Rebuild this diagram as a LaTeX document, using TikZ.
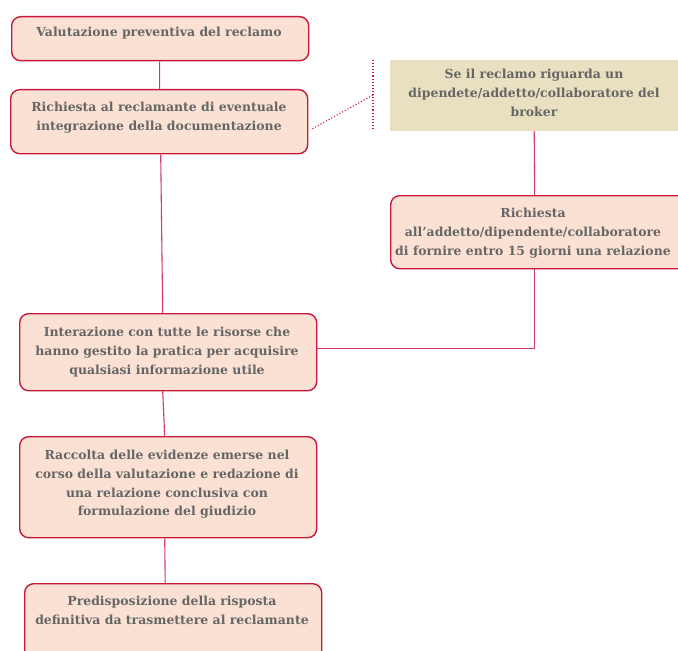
\documentclass[tikz,border=0pt]{standalone}
\usepackage{fontspec}
\setmainfont{DejaVu Serif}
\usetikzlibrary{positioning,calc}
\definecolor{boxred}{HTML}{C8183C}
\definecolor{linered}{HTML}{D23A62}
\definecolor{peach}{HTML}{FAE1D4}
\definecolor{tanbox}{HTML}{E8E0C0}
\definecolor{txtgray}{HTML}{666666}
\tikzset{
  stepbox/.style={draw=boxred, line width=1.4pt, fill=peach, rounded corners=9pt, inner sep=0pt, anchor=north west},
  notebox/.style={fill=tanbox, draw=none, inner sep=0pt, anchor=north west},
  lbl/.style={font=\fontsize{12.5}{19}\selectfont\bfseries, text=txtgray, align=center, anchor=north, inner sep=0pt},
  conn/.style={draw=linered, line width=1.1pt},
  dotconn/.style={draw=boxred, line width=1.1pt, dotted}
}
\begin{document}
\begin{tikzpicture}[x=1bp,y=-1bp]
\useasboundingbox (0,0) rectangle (678,651);
\clip (0,0) rectangle (678,651);
% boxes
\node[stepbox, minimum width=297bp, minimum height=44bp] (b1) at (11,16) {};
\node[stepbox, minimum width=297bp, minimum height=64bp] (b2) at (10,89) {};
\node[notebox, minimum width=288bp, minimum height=71bp] (tan) at (390,60) {};
\node[stepbox, minimum width=300bp, minimum height=73bp] (rb) at (390,195) {};
\node[stepbox, minimum width=297bp, minimum height=77bp] (b4) at (19,313) {};
\node[stepbox, minimum width=297bp, minimum height=101bp] (b5) at (19,436) {};
\node[stepbox, minimum width=297bp, minimum height=90bp] (b6) at (24,583) {};
% labels
\node[lbl] (t1) at (159,27) {Valutazione preventiva del reclamo};
\node[lbl] (t2) at (159,101.5) {Richiesta al reclamante di eventuale\\integrazione della documentazione};
\node[lbl] (t3) at (534,68.5) {Se il reclamo riguarda un\\dipendete/addetto/collaboratore del\\broker};
\node[lbl] (t4) at (533,207.5) {Richiesta\\all’addetto/dipendente/collaboratore\\di fornire entro 15 giorni una relazione};
\node[lbl] (t5) at (167,326.5) {Interazione con tutte le risorse che\\hanno gestito la pratica per acquisire\\qualsiasi informazione utile};
\node[lbl] (t6) at (167,449.5) {Raccolta delle evidenze emerse nel\\corso della valutazione e redazione di\\una relazione conclusiva con\\formulazione del giudizio};
\node[lbl] (t7) at (172,595.5) {Predisposizione della risposta\\definitiva da trasmettere al reclamante};
% connectors
\draw[conn] ([xshift=-0.5bp]b1.south) -- ([xshift=0.5bp]b2.north);
\draw[conn] ([xshift=1.5bp]b2.south) -- ([xshift=-5.5bp]b4.north);
\draw[conn] ([xshift=-5.5bp]b4.south) -- ([xshift=-3.5bp]b5.north);
\draw[conn] ([xshift=-3.5bp]b5.south) -- ([xshift=-8bp]b6.north);
\draw[conn] (tan.south) -- ([xshift=-6bp]rb.north);
\draw[conn] ([xshift=-6bp]rb.south) |- ([yshift=3.5bp]b4.east);
% dotted bracket
\coordinate (dtop) at (373,60);
\coordinate (dbot) at (373,130);
\coordinate (dmid) at (373,95);
\draw[dotconn] (dtop) -- (dbot);
\draw[dotconn] ([xshift=4bp,yshift=-7bp]b2.east) -- (dmid);
\end{tikzpicture}
\end{document}
